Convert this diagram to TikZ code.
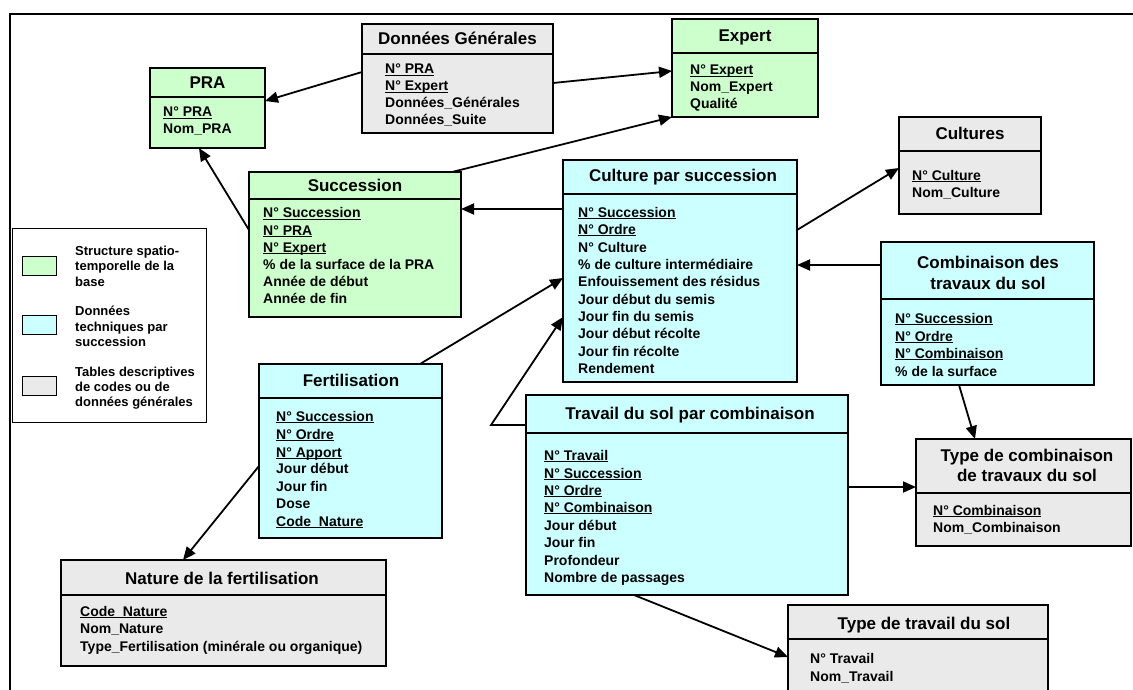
\documentclass[tikz,border=0pt]{standalone}
\usepackage{fontspec}
\setmainfont{Liberation Sans}
\usetikzlibrary{arrows.meta}
\definecolor{gr}{HTML}{CCFFCC}
\definecolor{cy}{HTML}{CCFFFF}
\definecolor{gy}{HTML}{EAEAEA}
\tikzset{
 ent/.style={draw=black, line width=2pt, anchor=north west, inner sep=0pt, outer sep=0pt},
 hdr/.style={line width=2pt},
 ttl/.style={font=\fontsize{17}{20}\selectfont\bfseries, inner sep=0pt, anchor=base},
 fld/.style={font=\fontsize{14}{17}\selectfont\bfseries, inner sep=0pt, anchor=base west},
 leg/.style={font=\fontsize{13}{15}\selectfont\bfseries, inner sep=0pt, anchor=base west},
 swatch/.style={draw=black, line width=1pt, anchor=north west, inner sep=0pt, minimum width=34, minimum height=19},
 arr/.style={line width=1.8pt, -{Triangle[length=13pt,width=11pt]}},
 lnk/.style={line width=1.8pt},
 frame/.style={line width=2.5pt},
}
\newcommand\ent[7]{%
 \node[ent, fill=#7, minimum width={#4-#2}, minimum height={#5-#3}] (#1) at (#2,#3) {};
 \draw[hdr] (#1.west |- 0,#6) -- (#1.east |- 0,#6);}
\newcommand\fld[4]{\node[fld] (#1) at (#2,#3+5) {#4};}
\newcommand\ttlnode[4]{\node[ttl] (#1) at (#2,#3+6) {#4};}
\newcommand\legl[3]{\node[leg] (#1) at (75,#2+4.5) {#3};}
\newcommand\undl[1]{\setbox0\hbox{#1}\rlap{\rule[-2.4pt]{\wd0}{1.3pt}}\box0}
\begin{document}
\begin{tikzpicture}[x=1pt,y=-1pt]
\useasboundingbox (0,0) rectangle (1133,690);
\fill[white] (0,0) rectangle (1133,690);
\draw[frame] (10,692) -- (10,14) -- (1135,14);

% legend
\node[draw=black, line width=1.2pt, anchor=north west, inner sep=0pt, minimum width=194, minimum height=194] (legend) at (12,228) {};
\node[swatch, fill=gr] (swg) at (22,256) {};
\node[swatch, fill=cy] (swc) at (22,315) {};
\node[swatch, fill=gy] (swy) at (22,376) {};
\legl{lg1}{251}{Structure spatio-}
\legl{lg2}{266}{temporelle de la}
\legl{lg3}{282}{base}
\legl{lc1}{311}{Données}
\legl{lc2}{327}{techniques par}
\legl{lc3}{342}{succession}
\legl{ly1}{372}{Tables descriptives}
\legl{ly2}{387}{de codes ou de}
\legl{ly3}{402}{données générales}

% entities
\ent{pra}{150}{68}{265}{148}{97}{gr}
\ttlnode{prat}{207.5}{83}{PRA}
\fld{pra1}{163}{112}{\undl{N° PRA}}
\fld{pra2}{163}{129}{Nom\_PRA}

\ent{dg}{362}{24}{553}{133}{54}{gy}
\ttlnode{dgt}{457.5}{39}{Données Générales}
\fld{dg1}{385}{69}{\undl{N° PRA}}
\fld{dg2}{385}{86}{\undl{N° Expert}}
\fld{dg3}{385}{103}{Données\_Générales}
\fld{dg4}{385}{120}{Données\_Suite}

\ent{exp}{672}{19}{818}{117}{53}{gr}
\ttlnode{expt}{745}{36}{Expert}
\fld{exp1}{690}{70}{\undl{N° Expert}}
\fld{exp2}{690}{87}{Nom\_Expert}
\fld{exp3}{690}{104}{Qualité}

\ent{cul}{899}{117}{1041}{214}{151}{gy}
\ttlnode{cult}{970}{134}{Cultures}
\fld{cul1}{912}{175}{\undl{N° Culture}}
\fld{cul2}{912}{192}{Nom\_Culture}

\ent{suc}{249}{172}{461}{317}{199}{gr}
\ttlnode{suct}{355}{185}{Succession}
\fld{suc1}{263}{213}{\undl{N° Succession}}
\fld{suc2}{263}{230}{\undl{N° PRA}}
\fld{suc3}{263}{247}{\undl{N° Expert}}
\fld{suc4}{263}{264}{\% de la surface de la PRA}
\fld{suc5}{263}{281}{Année de début}
\fld{suc6}{263}{298}{Année de fin}

\ent{cps}{563}{160}{797}{382}{194}{cy}
\ttlnode{cpst}{683}{176}{Culture par succession}
\fld{cps1}{578}{212}{\undl{N° Succession}}
\fld{cps2}{578}{229}{\undl{N° Ordre}}
\fld{cps3}{578}{247}{N° Culture}
\fld{cps4}{578}{264}{\% de culture intermédiaire}
\fld{cps5}{578}{281}{Enfouissement des résidus}
\fld{cps6}{578}{299}{Jour début du semis}
\fld{cps7}{578}{316}{Jour fin du semis}
\fld{cps8}{578}{333}{Jour début récolte}
\fld{cps9}{578}{351}{Jour fin récolte}
\fld{cps10}{578}{368}{Rendement}

\ent{cmb}{881}{242}{1094}{385}{299}{cy}
\ttlnode{cmbt1}{988}{262}{Combinaison des}
\ttlnode{cmbt2}{988}{283}{travaux du sol}
\fld{cmb1}{895}{318}{\undl{N° Succession}}
\fld{cmb2}{895}{336}{\undl{N° Ordre}}
\fld{cmb3}{895}{353}{\undl{N° Combinaison}}
\fld{cmb4}{895}{371}{\% de la surface}

\ent{fer}{259}{364}{442}{538}{398}{cy}
\ttlnode{fert}{351}{380}{Fertilisation}
\fld{fer1}{276}{416}{\undl{N° Succession}}
\fld{fer2}{276}{434}{\undl{N° Ordre}}
\fld{fer3}{276}{452}{\undl{N° Apport}}
\fld{fer4}{276}{468}{Jour début}
\fld{fer5}{276}{486}{Jour fin}
\fld{fer6}{276}{503}{Dose}
\fld{fer7}{276}{521}{\undl{Code\_Nature}}

\ent{nat}{61}{560}{386}{666}{595}{gy}
\ttlnode{natt}{222}{578}{Nature de la fertilisation}
\fld{nat1}{80}{611}{\undl{Code\_Nature}}
\fld{nat2}{80}{628}{Nom\_Nature}
\fld{nat3}{80}{646}{Type\_Fertilisation (minérale ou organique)}

\ent{trv}{526}{395}{848}{595}{433}{cy}
\ttlnode{trvt}{690}{413}{Travail du sol par combinaison}
\fld{trv1}{544}{455}{\undl{N° Travail}}
\fld{trv2}{544}{473}{\undl{N° Succession}}
\fld{trv3}{544}{490}{\undl{N° Ordre}}
\fld{trv4}{544}{507}{\undl{N° Combinaison}}
\fld{trv5}{544}{525}{Jour début}
\fld{trv6}{544}{542}{Jour fin}
\fld{trv7}{544}{560}{Profondeur}
\fld{trv8}{544}{577}{Nombre de passages}

\ent{tcb}{916}{439}{1131}{546}{493}{gy}
\ttlnode{tcbt1}{1027}{455}{Type de combinaison}
\ttlnode{tcbt2}{1027}{475}{de travaux du sol}
\fld{tcb1}{933}{510}{\undl{N° Combinaison}}
\fld{tcb2}{933}{527}{Nom\_Combinaison}

\ent{ttv}{788}{605}{1048}{702}{639}{gy}
\ttlnode{ttvt}{924}{623}{Type de travail du sol}
\fld{ttv1}{810}{658}{N° Travail}
\fld{ttv2}{810}{676}{Nom\_Travail}

% connectors
\draw[arr] (dg.west |- 0,72) -- (pra.east |- 0,101);
\draw[arr] (dg.east |- 0,83) -- (exp.west |- 0,71);
\draw[arr] (suc.west |- 0,230) -- (pra.south -| 199,0);
\draw[arr] (suc.north -| 452,0) -- (exp.south west);
\draw[arr] (cps.west |- 0,209) -- (suc.east |- 0,209);
\draw[arr] (cps.east |- 0,230) -- (cul.west |- 0,168);
\draw[arr] (cmb.west |- 0,265) -- (cps.east |- 0,265);
\draw[arr] (fer.north -| 420,0) -- (cps.west |- 0,278);
\coordinate (bend) at (491,425);
\draw[arr] (trv.west |- 0,425) -- (bend) -- (cps.west |- 0,317);
\draw[arr] (fer.west |- 0,466) -- (nat.north -| 183,0);
\draw[arr] (trv.south -| 634,0) -- (ttv.west |- 0,657);
\draw[arr] (trv.east |- 0,487) -- (tcb.west |- 0,487);
\draw[arr] (cmb.south -| 959,0) -- (tcb.north -| 975,0);
\end{tikzpicture}
\end{document}
